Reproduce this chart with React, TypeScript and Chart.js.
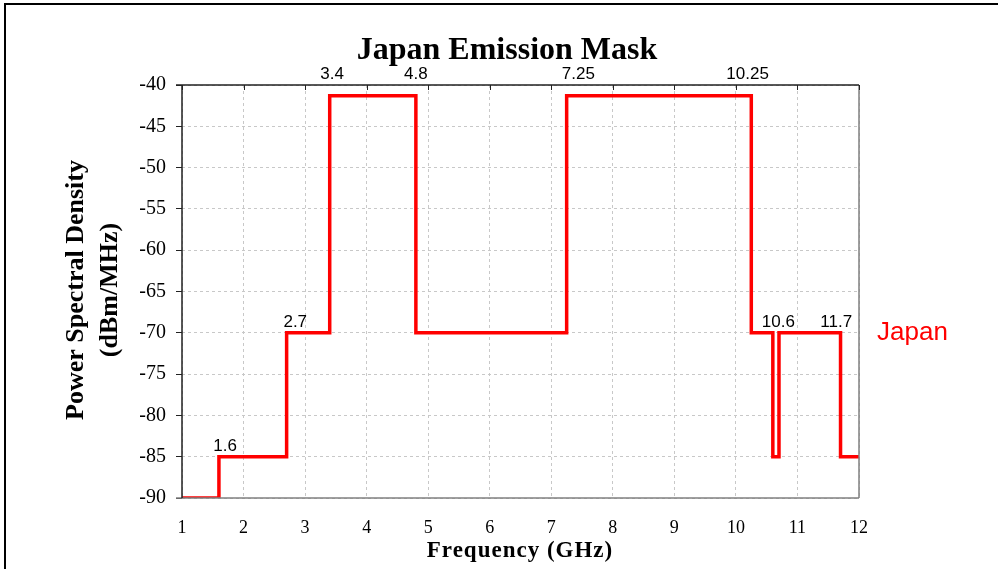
import React, { useEffect, useRef } from "react";
import { Chart, registerables } from "chart.js";

Chart.register(...registerables);

// Mask breakpoints (GHz) and level starting at each breakpoint (dBm/MHz)
const edgeFreqs = [1, 1.6, 2.7, 3.4, 4.8, 7.25, 10.25, 10.6, 10.7, 11.7, 12];
const maskLevels = [-90, -85, -70, -41.3, -70, -41.3, -70, -85, -70, -85, -85];

// Annotations: text, anchor frequency, anchor level
const noteTexts = ["1.6", "2.7", "3.4", "4.8", "7.25", "10.25", "10.6", "11.7"];
const noteFreqs = [1.7, 2.84, 3.44, 4.8, 7.44, 10.19, 10.69, 11.63];
const noteLevels = [-85, -70, -40, -40, -40, -40, -70, -70];

const xTicks = [1, 2, 3, 4, 5, 6, 7, 8, 9, 10, 11, 12];
const yTicks = [-90, -85, -80, -75, -70, -65, -60, -55, -50, -45, -40];

const titleText = "Japan Emission Mask";
const xTitle = "Frequency (GHz)";
const yTitleLines = ["Power Spectral Density", "(dBm/MHz)"];
const seriesName = "Japan";

const SERIF = '"Liberation Serif", "Times New Roman", serif';
const SANS = '"Liberation Sans", Arial, sans-serif';

const decorPlugin = {
  id: "decor",
  afterDraw(chart: any) {
    const { ctx, chartArea, scales } = chart;
    const { left, right, top, bottom } = chartArea;
    const xs = scales.x;
    const ys = scales.y;
    ctx.save();
    // frame
    ctx.lineWidth = 1.5;
    ctx.strokeStyle = "#808080";
    ctx.beginPath();
    ctx.moveTo(right, top);
    ctx.lineTo(right, bottom);
    ctx.moveTo(left - 6, bottom);
    ctx.lineTo(right, bottom);
    ctx.stroke();
    ctx.strokeStyle = "#222";
    ctx.beginPath();
    ctx.moveTo(left - 6, top);
    ctx.lineTo(right, top);
    ctx.moveTo(left, top);
    ctx.lineTo(left, bottom);
    ctx.stroke();
    // top inward ticks
    ctx.lineWidth = 1;
    ctx.beginPath();
    for (const v of xTicks) {
      const px = Math.round(xs.getPixelForValue(v)) + 0.5;
      ctx.moveTo(px, top);
      ctx.lineTo(px, top + 5);
    }
    ctx.stroke();
    // outer border
    ctx.lineWidth = 2;
    ctx.strokeStyle = "#000";
    ctx.beginPath();
    ctx.moveTo(5, chart.height + 5);
    ctx.lineTo(5, 4);
    ctx.lineTo(chart.width + 5, 4);
    ctx.stroke();
    // title
    ctx.fillStyle = "#000";
    ctx.textAlign = "center";
    ctx.textBaseline = "alphabetic";
    ctx.font = `bold 32px ${SERIF}`;
    ctx.fillText(titleText, 507, 59);
    // x title
    ctx.font = `bold 23px ${SERIF}`;
    if ("letterSpacing" in ctx) (ctx as any).letterSpacing = "1px";
    ctx.fillText(xTitle, 520, 557);
    if ("letterSpacing" in ctx) (ctx as any).letterSpacing = "0px";
    // y title
    ctx.save();
    ctx.translate(0, 290);
    ctx.rotate(-Math.PI / 2);
    ctx.font = `bold 26px ${SERIF}`;
    ctx.fillText(yTitleLines[0], 0, 83);
    ctx.fillText(yTitleLines[1], 0, 117);
    ctx.restore();
    // annotations
    ctx.font = `17px ${SANS}`;
    ctx.textBaseline = "alphabetic";
    for (let i = 0; i < noteTexts.length; i++) {
      const px = xs.getPixelForValue(noteFreqs[i]);
      const py = ys.getPixelForValue(noteLevels[i]);
      ctx.fillText(noteTexts[i], px, py - 6);
    }
    // series label
    ctx.fillStyle = "#ff0000";
    ctx.textAlign = "left";
    ctx.font = `26px ${SANS}`;
    ctx.fillText(seriesName, 877, 340);
    ctx.restore();
  },
};

export default function App() {
  const ref = useRef<HTMLCanvasElement>(null);
  useEffect(() => {
    if (!ref.current) return;
    const data = edgeFreqs.map((f, i) => ({ x: f, y: maskLevels[i] }));
    const chart = new Chart(ref.current, {
      type: "scatter",
      data: {
        datasets: [
          {
            label: seriesName,
            data,
            showLine: true,
            stepped: "before",
            borderColor: "#ff0000",
            backgroundColor: "#ff0000",
            borderWidth: 3.5,
            pointRadius: 0,
          },
        ],
      },
      options: {
        animation: false,
        responsive: false,
        events: [],
        layout: { padding: { left: 0, top: 85, right: 139, bottom: 0 } },
        plugins: {
          legend: { display: false },
          title: { display: false },
          tooltip: { enabled: false },
        },
        scales: {
          x: {
            type: "linear",
            min: 1,
            max: 12,
            afterBuildTicks: (s: any) => {
              s.ticks = xTicks.map((v) => ({ value: v }));
            },
            afterFit: (s: any) => {
              s.height = 71;
            },
            ticks: {
              color: "#000",
              font: { family: SERIF, size: 18 },
              padding: 19,
              maxRotation: 0,
              autoSkip: false,
            },
            grid: {
              color: "#c8c8c8",
              drawTicks: false,
            },
            border: { display: false, dash: [3, 3] },
          },
          y: {
            type: "linear",
            min: -90,
            max: -40,
            afterBuildTicks: (s: any) => {
              s.ticks = yTicks.map((v) => ({ value: v }));
            },
            afterFit: (s: any) => {
              s.width = 182;
            },
            ticks: {
              color: "#000",
              font: { family: SERIF, size: 20 },
              padding: 10,
              autoSkip: false,
            },
            grid: {
              color: "#c8c8c8",
              drawTicks: true,
              tickLength: 6,
              tickColor: "#222",
              tickBorderDash: [],
            },
            border: { display: false, dash: [3, 3] },
          },
        },
      },
      plugins: [decorPlugin],
    });
    return () => chart.destroy();
  }, []);
  return (
    <div style={{ position: "fixed", left: 0, top: 0, width: 998, height: 569, background: "#fff" }}>
      <canvas ref={ref} width={998} height={569} style={{ display: "block" }} />
    </div>
  );
}
